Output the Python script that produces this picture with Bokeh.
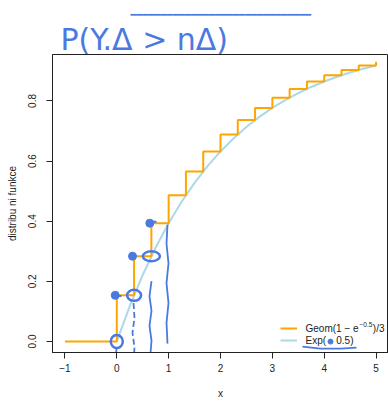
from bokeh.plotting import figure
from bokeh.models import Range1d, Legend, LegendItem, Label, Title
from bokeh.embed import file_html
from bokeh.resources import INLINE

# ---- data ----
# jump points of the step CDF Geom(1-e^-0.5)/3 and its values after each jump
step_x = [0, 1/3, 2/3, 1, 4/3, 5/3, 2, 7/3, 8/3, 3, 10/3, 11/3, 4, 13/3, 14/3, 5]
step_y = [0.1535, 0.2835, 0.3935, 0.4866, 0.5654, 0.6321, 0.6886, 0.7364,
          0.7769, 0.8111, 0.8401, 0.8647, 0.8854, 0.9030, 0.9179, 0.9305]
step_start = -1
# Exp(0.5) CDF read at quarter steps
exp_x = [0, 0.25, 0.5, 0.75, 1, 1.25, 1.5, 1.75, 2, 2.25, 2.5, 2.75, 3,
         3.25, 3.5, 3.75, 4, 4.25, 4.5, 4.75, 5]
exp_y = [0.0, 0.1175, 0.2212, 0.3127, 0.3935, 0.4647, 0.5276, 0.5831, 0.6321,
         0.6753, 0.7135, 0.7471, 0.7769, 0.8031, 0.8262, 0.8466, 0.8647,
         0.8806, 0.8946, 0.9070, 0.9179]
x_ticks = [-1, 0, 1, 2, 3, 4, 5]
x_tick_labels = ["\u22121", "0", "1", "2", "3", "4", "5"]
y_ticks = [0.0, 0.2, 0.4, 0.6, 0.8]
y_tick_labels = ["0.0", "0.2", "0.4", "0.6", "0.8"]
geom_label = ["Geom(1 \u2212 e", "\u22120.5", ")/3"]
exp_label = ["Exp(", "0.5)"]
note_text = "P(Y.\u0394 > n\u0394)"

# build step path
sx, sy = [step_start], [0.0]
prev = 0.0
for xk, yk in zip(step_x, step_y):
    sx += [xk, xk]
    sy += [prev, yk]
    prev = yk

X0, X1 = -1.24, 5.24
Y0, Y1 = -0.0367, 0.9546
HAND = "#4a7ae0"
FONT = "Liberation Sans"
INK = "#222222"

p = figure(width=388, height=401, x_range=Range1d(X0, X1), y_range=Range1d(Y0, Y1),
           output_backend="svg", toolbar_location=None,
           min_border_left=52, min_border_right=0, min_border_top=54, min_border_bottom=46)
p.background_fill_color = "white"
p.border_fill_color = "white"
p.outline_line_color = INK
p.outline_line_width = 1
p.xgrid.visible = False
p.ygrid.visible = False

for ax in (p.xaxis[0], p.yaxis[0]):
    ax.axis_line_color = INK
    ax.major_tick_line_color = INK
    ax.major_tick_out = 6
    ax.major_tick_in = 0
    ax.minor_tick_line_color = None
    ax.major_label_text_font = FONT
    ax.major_label_text_font_size = "10px"
    ax.major_label_text_color = INK
    ax.axis_label_text_font = FONT
    ax.axis_label_text_font_size = "10px"
    ax.axis_label_text_font_style = "normal"
    ax.axis_label_text_color = INK

p.xaxis.ticker = x_ticks
p.xaxis.major_label_overrides = {t: l for t, l in zip(x_ticks, x_tick_labels)}
p.xaxis.major_label_standoff = 5
p.xaxis.axis_label = "x"
p.xaxis.axis_label_standoff = 13
p.yaxis.ticker = y_ticks
p.yaxis.major_label_overrides = {t: l for t, l in zip(y_ticks, y_tick_labels)}
p.yaxis.major_label_orientation = "vertical"
p.yaxis.major_label_standoff = 10
p.yaxis.axis_label = "distribu ni funkce"
p.yaxis.axis_label_standoff = 8

r_exp = p.line(exp_x, exp_y, line_color="#ADD8E6", line_width=2)
r_step = p.line(sx, sy, line_color="#FFA500", line_width=2)

legend = Legend(items=[LegendItem(label=" ", renderers=[r_step]),
                       LegendItem(label=" ", renderers=[r_exp])],
                location=(228, 6), orientation="vertical")
legend.background_fill_alpha = 0
legend.border_line_color = None
legend.padding = 0
legend.margin = 0
legend.spacing = 0
legend.glyph_width = 17
legend.glyph_height = 12
legend.label_height = 12
legend.label_standoff = 0
legend.label_width = 10
legend.label_text_font_size = "10px"
p.add_layout(legend, "center")

def X(px):
    return X0 + (px - 52) * (X1 - X0) / 336.0
def Y(py):
    return Y0 + (355 - py) * (Y1 - Y0) / 301.0

# legend texts (with superscript)
def lab(px, py, text, size="10px", align="left"):
    p.add_layout(Label(x=X(px), y=Y(py), text=text, text_font=FONT, text_font_size=size,
                       text_color=INK, text_align=align, text_baseline="middle"))
lab(305, 331, geom_label[0])
lab(359, 327, geom_label[1], size="6.5px")
lab(384, 331, geom_label[2], align="right")
lab(305, 343, exp_label[0])
lab(353, 343, exp_label[1], align="right")

# ---- handwritten blue overlay ----
low_y = [0.0] + step_y[:2]
p.ellipse(x=step_x[:3], y=low_y, width=[12, 14, 17], height=[13, 11, 10],
          width_units="screen", height_units="screen",
          fill_color=None, line_color=HAND, line_width=2.5)
p.scatter(x=[v - 0.03 for v in step_x[:3]], y=step_y[:3], size=8, color=HAND)
p.line([X(113), X(121)], [Y(298), Y(298)], line_color=HAND, line_width=2)
p.line([X(150), X(156)], [Y(223), Y(223)], line_color=HAND, line_width=2)

strokes = [
    [(116, 350), (115, 365), (116, 380), (115, 401)],
    [(133, 305), (134, 320), (132, 335), (134, 350), (133, 365), (132, 395)],
    [(151, 283), (149, 298), (151, 313), (149, 328), (151, 343), (150, 356)],
    [(167, 226), (166, 245), (168, 265), (166, 285), (168, 305), (166, 325), (167, 346)],
    [(302, 349), (320, 351), (340, 351), (356, 350)],
]
for s in strokes:
    p.line([X(a) for a, b in s], [Y(b) for a, b in s], line_color=HAND, line_width=1.8,
           line_dash="6 3" if s[0][0] == 133 else "solid")
p.scatter(x=[X(330)], y=[Y(344)], size=5, color=HAND)

# the handwritten line at the very top is the (outermost) title,
# the handwritten formula sits just above the frame
p.title = Title(text="\u2501" * 30, text_color=HAND, text_font="DejaVu Sans",
                text_font_style="normal", text_font_size="10px", align="left",
                offset=78, standoff=4)
p.add_layout(Title(text=note_text, text_color=HAND, text_font="DejaVu Sans",
                   text_font_style="normal", text_font_size="30px", align="left",
                   offset=8, standoff=-4), "above")

open("out.html", "w").write(file_html(p, INLINE))
